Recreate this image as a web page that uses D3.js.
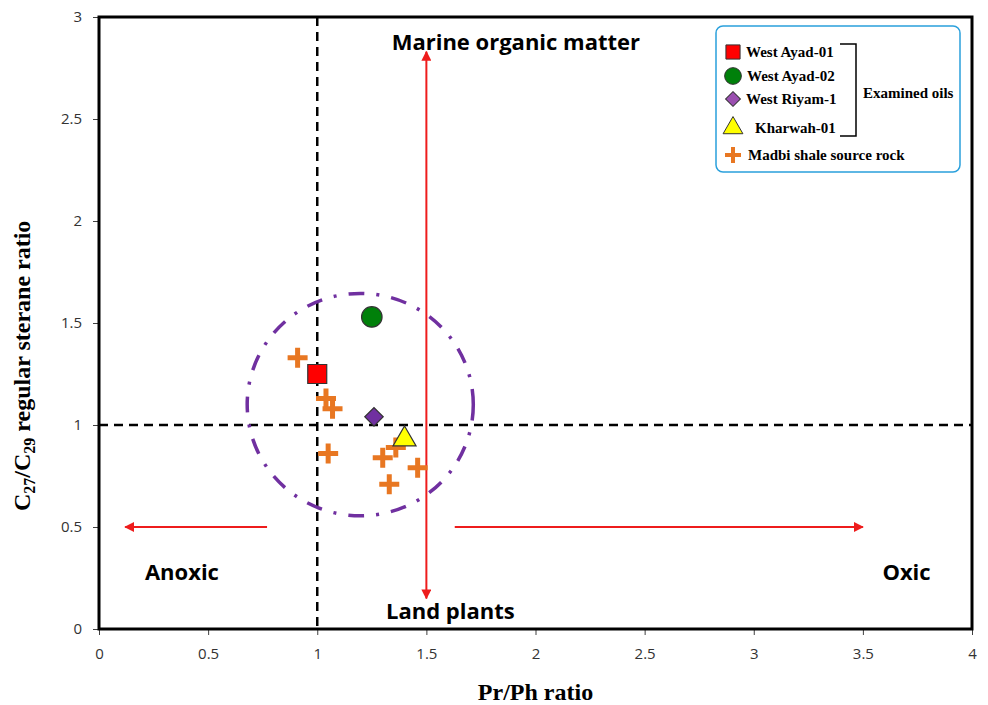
<!DOCTYPE html>
<html>
<head>
<meta charset="utf-8">
<script src="https://cdn.jsdelivr.net/npm/d3@7"></script>
<style>
  body { margin: 0; background: #fff; }
  .tick text { font-family: "Open Sans", sans-serif; font-size: 15px; fill: #333; }
  .tick line { stroke: #404040; }
</style>
</head>
<body>
<div id="chart"></div>
<script>
// oils (examined)
var oilNames = ["West Ayad-01", "West Ayad-02", "West Riyam-1", "Kharwah-01"];
var oilPrPh = [1.00, 1.25, 1.26, 1.40];
var oilSterane = [1.25, 1.53, 1.04, 0.94];

// Madbi shale source rock samples
var rockPrPh = [0.91, 1.04, 1.07, 1.05, 1.30, 1.36, 1.46, 1.33];
var rockSterane = [1.33, 1.13, 1.08, 0.86, 0.84, 0.89, 0.79, 0.71];

var xTicks = [0, 0.5, 1, 1.5, 2, 2.5, 3, 3.5, 4];
var yTicks = [0, 0.5, 1, 1.5, 2, 2.5, 3];

// set svg dimension
const margin = {top: 17, right: 16, bottom: 76, left: 99},
    width = 988 - margin.left - margin.right,
    height = 705 - margin.top - margin.bottom;

const svg = d3.select("#chart")
    .append("svg")
    .attr("width", 988)
    .attr("height", 705)
    .append("g")
    .attr("transform", `translate(${margin.left},${margin.top})`);

const x = d3.scaleLinear().domain([0, 4]).range([0, width]);
const y = d3.scaleLinear().domain([0, 3]).range([height, 0]);

// axes
svg.append("g")
    .attr("transform", `translate(0,${height})`)
    .call(d3.axisBottom(x).tickValues(xTicks).tickFormat(d3.format("")).tickSize(6).tickPadding(13).tickSizeOuter(0))
    .call(g => g.select(".domain").remove());

svg.append("g")
    .call(d3.axisLeft(y).tickValues(yTicks).tickFormat(d3.format("")).tickSize(6).tickPadding(11).tickSizeOuter(0))
    .call(g => g.select(".domain").remove());

// arrow markers
const defs = svg.append("defs");
defs.append("marker")
    .attr("id", "arrowHead")
    .attr("viewBox", "0 0 10 10")
    .attr("refX", 9).attr("refY", 5)
    .attr("markerWidth", 5).attr("markerHeight", 5)
    .attr("orient", "auto-start-reverse")
    .append("path")
    .attr("d", "M0,0 L10,5 L0,10 z")
    .attr("fill", "#ee1c1c");

// dashed reference lines
svg.append("line")
    .attr("x1", x(1)).attr("x2", x(1))
    .attr("y1", 0).attr("y2", height)
    .attr("stroke", "black").attr("stroke-width", 2.5)
    .attr("stroke-dasharray", "9,6");

svg.append("line")
    .attr("x1", 0).attr("x2", width)
    .attr("y1", y(1)).attr("y2", y(1))
    .attr("stroke", "black").attr("stroke-width", 2.5)
    .attr("stroke-dasharray", "9,6");

// red arrows
svg.append("line")
    .attr("x1", x(1.5)).attr("x2", x(1.5))
    .attr("y1", y(0.15)).attr("y2", y(2.83))
    .attr("stroke", "#ee1c1c").attr("stroke-width", 2)
    .attr("marker-start", "url(#arrowHead)")
    .attr("marker-end", "url(#arrowHead)");

svg.append("line")
    .attr("x1", x(0.77)).attr("x2", x(0.12))
    .attr("y1", y(0.5)).attr("y2", y(0.5))
    .attr("stroke", "#ee1c1c").attr("stroke-width", 2)
    .attr("marker-end", "url(#arrowHead)");

svg.append("line")
    .attr("x1", x(1.63)).attr("x2", x(3.5))
    .attr("y1", y(0.5)).attr("y2", y(0.5))
    .attr("stroke", "#ee1c1c").attr("stroke-width", 2)
    .attr("marker-end", "url(#arrowHead)");

// dash-dot ellipse around samples
svg.append("ellipse")
    .attr("cx", x(1.197)).attr("cy", y(1.10))
    .attr("rx", x(0.518) - x(0)).attr("ry", y(0) - y(0.545))
    .attr("fill", "none")
    .attr("stroke", "#7030a0").attr("stroke-width", 3.5)
    .attr("stroke-dasharray", "16,12,3,12");

// labels inside plot
const labelFont = "'Open Sans', sans-serif";
function addLabel(txt, xv, yv, anchor) {
    svg.append("text")
        .attr("x", x(xv)).attr("y", y(yv))
        .attr("text-anchor", anchor)
        .attr("font-family", labelFont)
        .attr("font-weight", "bold")
        .attr("font-size", "22px")
        .attr("fill", "black")
        .text(txt);
}
addLabel("Marine organic matter", 1.91, 2.84, "middle");
addLabel("Land plants", 1.61, 0.05, "middle");
addLabel("Anoxic", 0.38, 0.24, "middle");
addLabel("Oxic", 3.70, 0.24, "middle");

// symbols
const plus = "M-10,-2.5 H-2.5 V-10 H2.5 V-2.5 H10 V2.5 H2.5 V10 H-2.5 V2.5 H-10 Z";
const oilShapes = [d3.symbolSquare, d3.symbolCircle, d3.symbolSquare, d3.symbolTriangle];
const oilRotate = [0, 0, 45, 0];
const oilColors = ["#ff0000", "#00800a", "#7030a0", "#ffff00"];
const oilSizes = [360, 330, 170, 230];

svg.selectAll(".rock")
    .data(rockPrPh)
    .join("path")
    .attr("class", "rock")
    .attr("d", plus)
    .attr("transform", (d, i) => `translate(${x(d)},${y(rockSterane[i])})`)
    .attr("fill", "#e87722");

svg.selectAll(".oil")
    .data(oilPrPh)
    .join("path")
    .attr("class", "oil")
    .attr("d", (d, i) => d3.symbol().type(oilShapes[i]).size(oilSizes[i])())
    .attr("transform", (d, i) => `translate(${x(d)},${y(oilSterane[i]) + (i == 3 ? 2 : 0)}) rotate(${oilRotate[i]})`)
    .attr("fill", (d, i) => oilColors[i])
    .attr("stroke", "#333")
    .attr("stroke-width", 1.2);

// frame
svg.append("rect")
    .attr("x", 0).attr("y", 0)
    .attr("width", width).attr("height", height)
    .attr("fill", "none")
    .attr("stroke", "black").attr("stroke-width", 3);

// axis titles
svg.append("text")
    .attr("x", x(2)).attr("y", height + 71)
    .attr("text-anchor", "middle")
    .attr("font-family", "'Liberation Serif', serif")
    .attr("font-weight", "bold")
    .attr("font-size", "24px")
    .text("Pr/Ph ratio");

const yTitle = svg.append("text")
    .attr("transform", `translate(${-69},${y(1.29)}) rotate(-90)`)
    .attr("text-anchor", "middle")
    .attr("font-family", "'Liberation Serif', serif")
    .attr("font-weight", "bold")
    .attr("font-size", "24px");
yTitle.append("tspan").text("C");
yTitle.append("tspan").attr("font-size", "16px").attr("dy", 5).text("27");
yTitle.append("tspan").attr("dy", -5).text("/C");
yTitle.append("tspan").attr("font-size", "16px").attr("dy", 5).text("29");
yTitle.append("tspan").attr("dy", -5).text(" regular sterane ratio");

// legend
const legend = svg.append("g")
    .attr("transform", `translate(${716 - margin.left},${26 - margin.top})`);

legend.append("rect")
    .attr("width", 244).attr("height", 146)
    .attr("rx", 7)
    .attr("fill", "white")
    .attr("stroke", "#2aa0dc").attr("stroke-width", 1.5);

const legendY = [26, 50, 73, 102, 129];
const legendTextX = [30, 31, 30, 39, 32];
const legendSizes = [200, 220, 110, 170];

legend.selectAll(".lsym")
    .data(oilNames)
    .join("path")
    .attr("class", "lsym")
    .attr("d", (d, i) => d3.symbol().type(oilShapes[i]).size(legendSizes[i])())
    .attr("transform", (d, i) => `translate(17,${legendY[i]}) rotate(${oilRotate[i]})`)
    .attr("fill", (d, i) => i == 2 ? "#9b4fb0" : oilColors[i])
    .attr("stroke", "#333")
    .attr("stroke-width", 1);

legend.append("path")
    .attr("d", "M-8,-2 H-2 V-8 H2 V-2 H8 V2 H2 V8 H-2 V2 H-8 Z")
    .attr("transform", `translate(17,${legendY[4]})`)
    .attr("fill", "#e87722");

legend.selectAll(".ltext")
    .data(oilNames.concat(["Madbi shale source rock"]))
    .join("text")
    .attr("class", "ltext")
    .attr("x", (d, i) => legendTextX[i])
    .attr("y", (d, i) => legendY[i])
    .attr("dy", "0.35em")
    .attr("font-family", "'Liberation Serif', serif")
    .attr("font-weight", "bold")
    .attr("font-size", "15px")
    .text(d => d);

// bracket for examined oils
legend.append("path")
    .attr("d", "M124,18 H140 V110 H124")
    .attr("fill", "none")
    .attr("stroke", "black").attr("stroke-width", 1.5);

legend.append("text")
    .attr("x", 147).attr("y", 67)
    .attr("dy", "0.35em")
    .attr("font-family", "'Liberation Serif', serif")
    .attr("font-weight", "bold")
    .attr("font-size", "15px")
    .text("Examined oils");
</script>
</body>
</html>
